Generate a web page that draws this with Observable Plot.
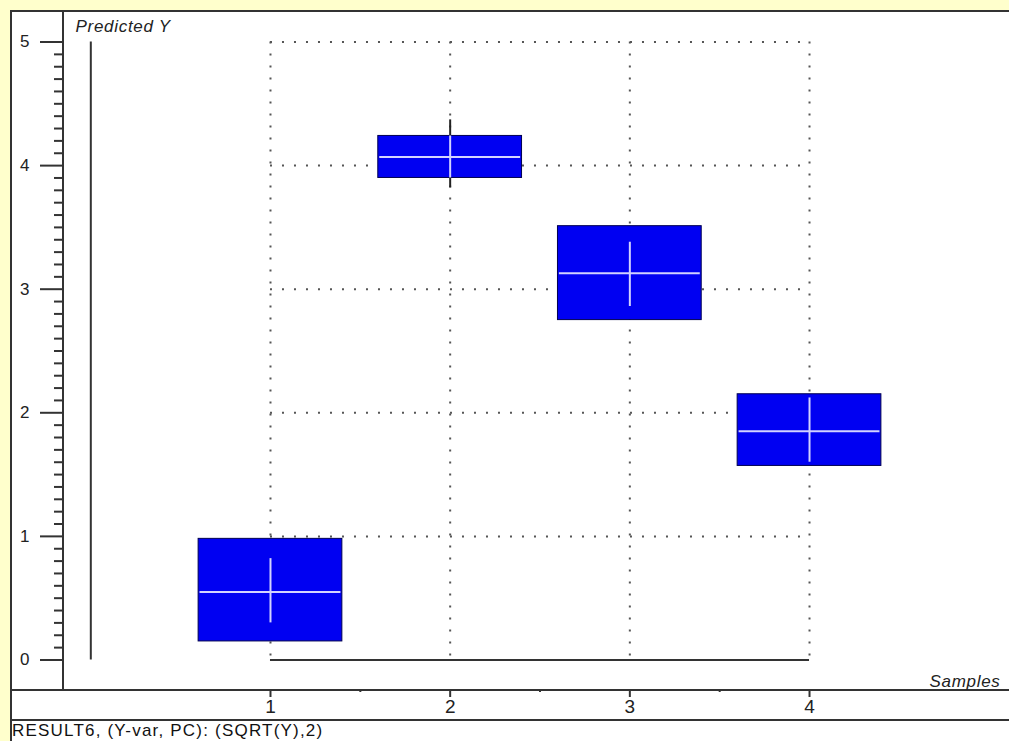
<!DOCTYPE html>
<html>
<head>
<meta charset="utf-8">
<script src="https://cdn.jsdelivr.net/npm/d3@7"></script>
<script src="https://cdn.jsdelivr.net/npm/@observablehq/plot@0.6"></script>
<style>
  html, body { margin: 0; padding: 0; }
  body { width: 1009px; height: 741px; background: #ffffcc; position: relative; overflow: hidden;
         font-family: "Liberation Sans", Arial, sans-serif; color: #222; }
  #panel { position: absolute; left: 10px; top: 10px; right: 0; bottom: 0; background: #fff;
           border-left: 2px solid #333; border-top: 2px solid #333; }
  .hline { position: absolute; left: 10px; right: 0; height: 2px; background: #333; }
  .vline { position: absolute; width: 2px; background: #333; }
  #chart { position: absolute; left: 0; top: 0; }
  #caption { position: absolute; left: 12px; top: 722px; font-size: 17px; line-height: 18px;
             letter-spacing: 1.2px; color: #111; }
</style>
</head>
<body>
<div id="panel"></div>
<div class="vline" style="left:62px; top:10px; height:680px;"></div>
<div class="hline" style="top:689px;"></div>
<div class="hline" style="top:719px;"></div>
<div id="chart"></div>
<div id="caption">RESULT6, (Y-var, PC): (SQRT(Y),2)</div>
<script>
// Predicted Y per sample: box = prediction interval, cross = predicted value and deviation
const samples   = [1, 2, 3, 4];
const predicted = [0.55, 4.07, 3.13, 1.85];
const boxLow    = [0.15, 3.90, 2.75, 1.57];
const boxHigh   = [0.98, 4.24, 3.51, 2.15];
const devLow    = [0.30, 3.82, 2.86, 1.60];
const devHigh   = [0.82, 4.37, 3.38, 2.12];

const yTicks = [0, 1, 2, 3, 4, 5];
const xTicks = [1, 2, 3, 4];
const yMinor = d3.range(0, 51).map(i => i / 10).filter(v => !yTicks.includes(v));
const xMinor = [1.5, 2.5, 3.5];

const halfWidth = 0.4;

const rows = samples.map((s, i) => ({
  sample: s,
  predicted: predicted[i],
  boxLow: boxLow[i],
  boxHigh: boxHigh[i],
  devLow: devLow[i],
  devHigh: devHigh[i],
  innerLow: Math.max(devLow[i], boxLow[i]),
  innerHigh: Math.min(devHigh[i], boxHigh[i])
}));

const xFirst = d3.min(xTicks), xLast = d3.max(xTicks);
const yFirst = d3.min(yTicks), yLast = d3.max(yTicks);
const dotted = {stroke: "#555", strokeWidth: 2, strokeDasharray: "2 10"};
const intLabel = d => String(d);

const chart = Plot.plot({
  width: 1009,
  height: 720,
  marginLeft: 63,
  marginRight: 0,
  marginTop: 10,
  marginBottom: 30,
  style: {background: "transparent", fontFamily: "Liberation Sans, Arial, sans-serif", color: "#333", overflow: "visible"},
  x: {domain: [-0.152, 5.113]},
  y: {domain: [-0.247, 5.255]},
  marks: [
    // dotted grid over the sample range
    Plot.ruleX(xTicks, {y1: yLast, y2: yFirst, ...dotted}),
    Plot.ruleY(yTicks.filter(v => v > yFirst), {x1: xFirst, x2: xLast, ...dotted}),
    // data range lines
    Plot.ruleY([yFirst], {x1: xFirst, x2: xLast, stroke: "#333", strokeWidth: 2}),
    Plot.ruleX([0], {y1: yFirst, y2: yLast, stroke: "#333", strokeWidth: 2}),
    // deviation bars
    Plot.ruleX(rows, {x: "sample", y1: "devLow", y2: "devHigh", stroke: "#222", strokeWidth: 2}),
    // boxes
    Plot.rect(rows, {
      x1: d => d.sample - halfWidth, x2: d => d.sample + halfWidth,
      y1: "boxLow", y2: "boxHigh",
      fill: "#0000f2", stroke: "#000050", strokeWidth: 1
    }),
    Plot.ruleX(rows, {x: "sample", y1: "innerLow", y2: "innerHigh", stroke: "#d2d2ff", strokeWidth: 2}),
    Plot.ruleY(rows, {
      y: "predicted",
      x1: d => d.sample - halfWidth + 0.008, x2: d => d.sample + halfWidth - 0.008,
      stroke: "#d2d2ff", strokeWidth: 2
    }),
    // axes
    Plot.axisY(yTicks, {anchor: "left", tickSize: 23, tickPadding: 11, tickFormat: intLabel, label: null, stroke: "#333", strokeWidth: 2, fill: "#222"}),
    Plot.axisY(yMinor, {anchor: "left", tickSize: 9, tickFormat: () => "", label: null, stroke: "#333", strokeWidth: 2}),
    Plot.axisX(xTicks, {anchor: "bottom", tickSize: 7, tickPadding: 2, tickFormat: intLabel, label: null, stroke: "#333", strokeWidth: 2, fill: "#222"}),
    Plot.axisX(xMinor, {anchor: "bottom", tickSize: 2, tickFormat: () => "", label: null, stroke: "#333", strokeWidth: 2}),
    // axis titles
    Plot.text(["Predicted Y"], {frameAnchor: "top-left", dx: 12, dy: 9, fontSize: 17, fontStyle: "italic", fill: "#222"}),
    Plot.text(["Samples"], {frameAnchor: "bottom-right", dx: -9, dy: -4, fontSize: 17, fontStyle: "italic", fill: "#222"})
  ]
});

// tick label sizes; axis titles with slightly wider lettering
chart.querySelectorAll("text").forEach(t => {
  const g = t.closest("g[aria-label]");
  const role = g ? g.getAttribute("aria-label") : "";
  if (role.includes("y-axis")) t.style.fontSize = "17px";
  else if (role.includes("x-axis")) t.style.fontSize = "19px";
  if (t.textContent === "Predicted Y" || t.textContent === "Samples") t.setAttribute("letter-spacing", "0.7");
});

document.getElementById("chart").appendChild(chart);
</script>
</body>
</html>
